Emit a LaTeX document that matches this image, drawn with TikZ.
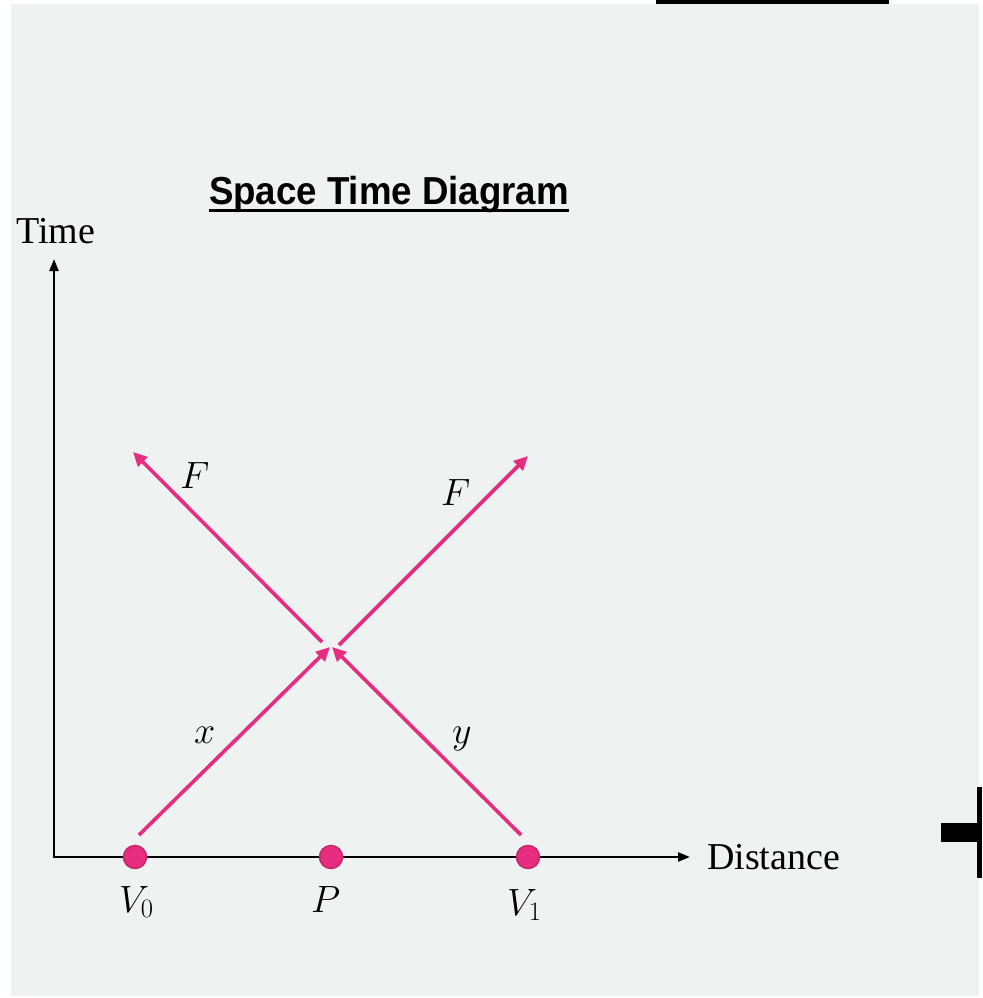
\documentclass[tikz,border=0pt]{standalone}
\usepackage{fix-cm}
\usepackage{fontspec}
\setmainfont{Liberation Serif}
\newfontfamily\titlefont{Liberation Sans}
\usetikzlibrary{arrows.meta}
\definecolor{bg}{RGB}{238,242,240}
\definecolor{pinkline}{RGB}{232,44,128}
\definecolor{dotedge}{RGB}{196,38,104}
\begin{document}
\begin{tikzpicture}[x=1pt,y=-1pt,
  axis/.style={line width=2.4pt,{Triangle[length=12pt,width=9pt]}-{Triangle[length=12pt,width=9pt]}},
  ray/.style={draw=pinkline,line width=3.6pt,-{Triangle[length=14pt,width=13pt]}},
  dot/.style={circle,fill=pinkline,draw=dotedge,line width=1.5pt,minimum size=23pt,inner sep=0pt},
  mlabel/.style={font=\fontsize{38}{40}\selectfont,inner sep=0pt,anchor=base west},
  serif/.style={font=\fontsize{38}{40}\selectfont,inner sep=0pt,anchor=base west}]
\useasboundingbox (0,0) rectangle (982,998);
\fill[white] (0,0) rectangle (982,998);
\fill[bg] (11,4) rectangle (979,996);
\fill[black] (656,0) rectangle (889,4);
\fill[black] (977,787) rectangle (982,878);
\fill[black] (941,823) rectangle (982,842);

% title
\node[anchor=base,inner sep=0pt,font=\titlefont\bfseries\fontsize{39}{42}\selectfont] (title) at (389,204) {\scalebox{0.94}[1]{Space Time Diagram}};
\draw[line width=3pt] ([yshift=-6pt]title.base west) -- ([yshift=-6pt]title.base east);

% axes
\coordinate (ytop) at (54,259);
\coordinate (origin) at (54,857);
\coordinate (xend) at (690,857);
\draw[axis] (ytop) -- (origin) -- (xend);
\node[serif] (timelbl) at (16,243) {Time};
\node[serif] (distlbl) at (707,869) {Distance};

% rays
\coordinate (a0) at (139,835);
\coordinate (m1) at (330,647);
\coordinate (b0) at (521,835);
\coordinate (m2) at (332,647);
\coordinate (u1s) at (322,642);
\coordinate (u1e) at (133,452);
\coordinate (u2s) at (339,645);
\coordinate (u2e) at (528,456);
\draw[ray] (a0) -- (m1);
\draw[ray] (b0) -- (m2);
\draw[ray] (u1s) -- (u1e);
\draw[ray] (u2s) -- (u2e);

% dots
\node[dot] (v0) at (135,857) {};
\node[dot] (p) at (331,857) {};
\node[dot] (v1) at (528,857) {};

% labels
\node[mlabel] (v0lbl) at (119,912) {$V_0$};
\node[mlabel] (plbl) at (311,912) {$P$};
\node[mlabel] (v1lbl) at (507,915) {$V_1$};
\node[mlabel] (f1) at (180,488) {$F$};
\node[mlabel] (f2) at (441,505) {$F$};
\node[mlabel] (xlbl) at (194,743) {$x$};
\node[mlabel] (ylbl) at (452,743) {$y$};
\end{tikzpicture}
\end{document}
